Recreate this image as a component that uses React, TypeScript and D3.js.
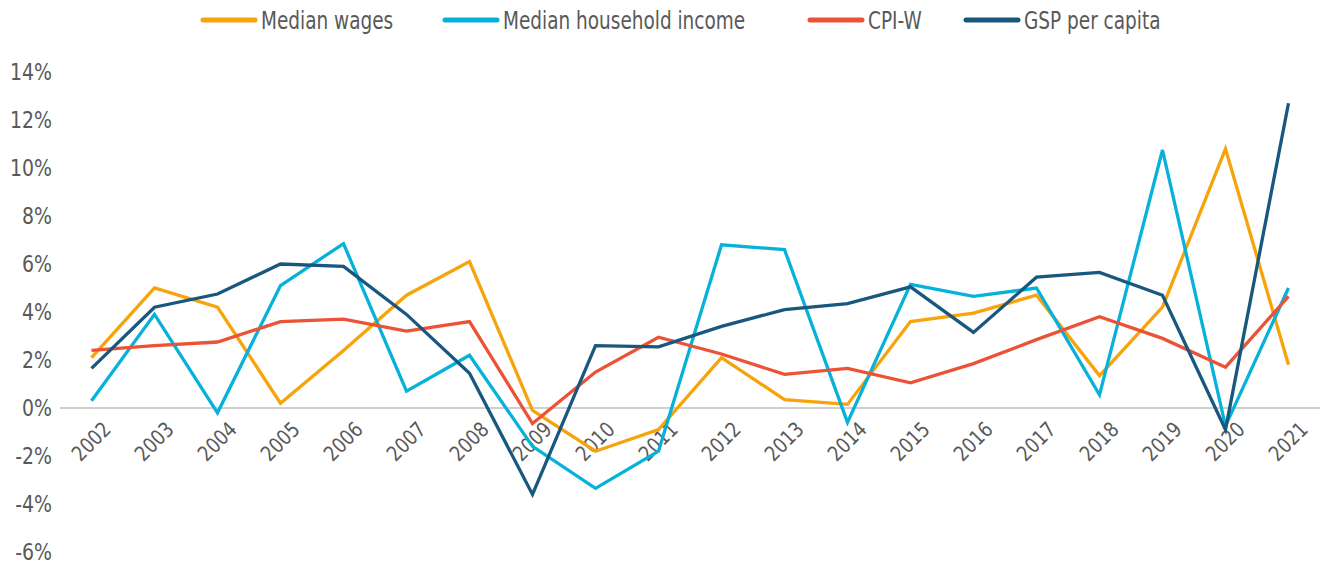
import React from "react";
import * as d3 from "d3";

const years = ["2002","2003","2004","2005","2006","2007","2008","2009","2010","2011","2012","2013","2014","2015","2016","2017","2018","2019","2020","2021"];
const medianWages = [2.1,5.0,4.2,0.2,2.4,4.7,6.1,-0.1,-1.8,-0.9,2.1,0.35,0.15,3.6,3.95,4.7,1.35,4.2,10.8,1.8];
const medianHouseholdIncome = [0.3,3.9,-0.2,5.1,6.85,0.7,2.2,-1.6,-3.35,-1.8,6.8,6.6,-0.6,5.15,4.65,5.0,0.55,10.75,-0.75,5.0];
const cpiW = [2.4,2.6,2.75,3.6,3.7,3.2,3.6,-0.65,1.5,2.95,2.25,1.4,1.65,1.05,1.85,2.85,3.8,2.9,1.7,4.65];
const gspPerCapita = [1.65,4.2,4.75,6.0,5.9,3.9,1.45,-3.6,2.6,2.55,3.4,4.1,4.35,5.05,3.15,5.45,5.65,4.7,-0.9,12.7];
const yTicks = [14,12,10,8,6,4,2,0,-2,-4,-6];

const seriesNames = ["Median wages","Median household income","CPI-W","GSP per capita"];
const seriesColors = ["#F7A30B","#06B1DA","#EC5236","#18577E"];
const seriesData = [medianWages, medianHouseholdIncome, cpiW, gspPerCapita];

const W = 1333, H = 568;
const FONT = "'DejaVu Sans', sans-serif";
const SX = 0.84;
const SXL = 0.77;

export default function App() {
  const x = d3.scaleBand().domain(years).range([60, 1320]);
  const y = d3.scaleLinear().domain([-6, 14]).range([552, 72]);
  const line = d3.line<number>()
    .x((_, i) => (x(years[i]) as number) + x.bandwidth() / 2)
    .y((d) => y(d));

  const legendX = [203, 445, 810, 966];

  return (
    <svg width={W} height={H} style={{ position: "absolute", left: 0, top: 0, background: "#fff" }}>
      {yTicks.map((t) => (
        <g key={t} transform={`translate(52,${y(t)}) scale(${SX},1)`}>
          <text x={0} y={0} dy="0.36em" textAnchor="end" fontFamily={FONT} fontSize={22.5} fill="#595959">
            {t}%
          </text>
        </g>
      ))}
      <line x1={60} x2={1320} y1={y(0)} y2={y(0)} stroke="#BFBFBF" strokeWidth={1.5} />
      {years.map((yr) => {
        const cx = (x(yr) as number) + x.bandwidth() / 2;
        return (
          <g key={yr} transform={`translate(${cx + 10},${y(0) + 12}) rotate(-45) scale(${SX},1)`}>
            <text textAnchor="end" dy="0.72em" fontFamily={FONT} fontSize={21} fill="#595959">
              {yr}
            </text>
          </g>
        );
      })}
      {seriesData.map((d, i) => (
        <path key={i} d={line(d) as string} fill="none" stroke={seriesColors[i]} strokeWidth={3.3} strokeLinejoin="miter" />
      ))}
      {seriesNames.map((n, i) => (
        <g key={n} transform={`translate(${legendX[i]},20)`}>
          <line x1={0} x2={52} y1={0} y2={0} stroke={seriesColors[i]} strokeWidth={5} strokeLinecap="round" />
          <g transform={`translate(58,0) scale(${SXL},1)`}>
            <text x={0} y={0} dy="0.36em" fontFamily={FONT} fontSize={24} fill="#595959">{n}</text>
          </g>
        </g>
      ))}
    </svg>
  );
}
